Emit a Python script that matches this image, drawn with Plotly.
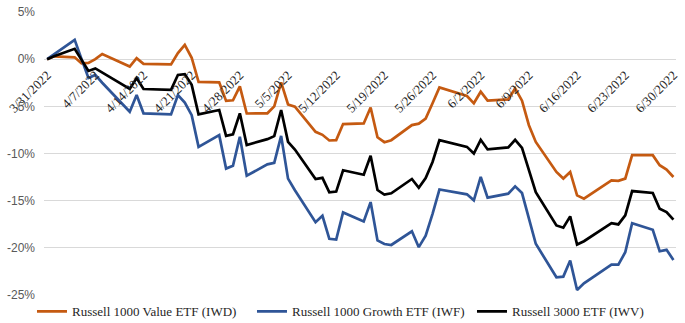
import plotly.graph_objects as go

dates = ["2022-03-31","2022-04-01","2022-04-04","2022-04-05","2022-04-06","2022-04-07","2022-04-08",
         "2022-04-11","2022-04-12","2022-04-13","2022-04-14",
         "2022-04-18","2022-04-19","2022-04-20","2022-04-21","2022-04-22",
         "2022-04-25","2022-04-26","2022-04-27","2022-04-28","2022-04-29",
         "2022-05-02","2022-05-03","2022-05-04","2022-05-05","2022-05-06",
         "2022-05-09","2022-05-10","2022-05-11","2022-05-12","2022-05-13",
         "2022-05-16","2022-05-17","2022-05-18","2022-05-19","2022-05-20",
         "2022-05-23","2022-05-24","2022-05-25","2022-05-26","2022-05-27",
         "2022-05-31","2022-06-01","2022-06-02","2022-06-03",
         "2022-06-06","2022-06-07","2022-06-08","2022-06-09","2022-06-10",
         "2022-06-13","2022-06-14","2022-06-15","2022-06-16","2022-06-17",
         "2022-06-21","2022-06-22","2022-06-23","2022-06-24",
         "2022-06-27","2022-06-28","2022-06-29","2022-06-30"]

iwd = [0, 0.3, 0.2, -0.45, -0.4, 0.0, 0.55,
       -0.45, -0.78, 0.1, -0.5,
       -0.55, 0.64, 1.52, 0.15, -2.4,
       -2.45, -4.42, -4.36, -2.88, -5.76,
       -5.74, -5.0, -2.47, -4.8, -5.04,
       -7.7, -8.02, -8.62, -8.58, -6.88,
       -6.81, -5.12, -8.28, -8.8, -8.59,
       -6.99, -6.84, -6.3, -4.68, -3.0,
       -3.9, -4.68, -3.45, -4.4,
       -4.26, -3.1, -4.4, -7.0, -8.77,
       -11.96, -12.66, -11.96, -14.44, -14.79,
       -12.84, -12.9, -12.66, -10.18,
       -10.18, -11.24, -11.7, -12.49]

iwf = [0, 0.5, 2.05, 0.0, -2.0, -1.67, -2.5,
       -4.8, -5.57, -3.8, -5.74,
       -5.85, -3.8, -4.6, -5.93, -9.3,
       -8.05, -11.6, -11.3, -8.23, -12.35,
       -11.15, -11.0, -8.13, -12.66, -13.9,
       -17.28, -16.6, -19.04, -19.13, -16.25,
       -17.2, -15.15, -19.22, -19.6, -19.7,
       -18.25, -19.93, -18.72, -16.4, -13.82,
       -14.33, -14.97, -12.49, -14.68,
       -14.26, -13.48, -14.19, -16.74, -19.57,
       -23.12, -23.05, -21.35, -24.47, -23.77,
       -21.78, -21.78, -20.47, -17.38,
       -18.09, -20.36, -20.21, -21.28]

iwv = [0, 0.3, 1.1, -0.1, -1.25, -0.98, -1.4,
       -2.7, -3.16, -2.0, -3.16,
       -3.25, -1.67, -1.58, -2.72, -5.85,
       -5.39, -8.13, -7.98, -5.74, -9.1,
       -8.48, -8.16, -5.39, -8.77, -9.58,
       -12.7, -12.58, -14.12, -14.04, -11.78,
       -12.25, -10.23, -13.87, -14.35, -14.22,
       -12.7, -13.64, -12.6, -10.9, -8.59,
       -9.3, -10.0, -8.55, -9.57,
       -9.36, -8.55, -9.4, -11.7, -14.1,
       -17.63, -17.87, -16.67, -19.65, -19.3,
       -17.38, -17.52, -16.56, -13.98,
       -14.19, -15.85, -16.21, -17.02]

series_names = ["Russell 1000 Value ETF (IWD)", "Russell 1000 Growth ETF (IWF)", "Russell 3000 ETF (IWV)"]
series_colors = ["#C55A11", "#2F5597", "#000000"]

x_tickvals = ["2022-03-31","2022-04-07","2022-04-14","2022-04-21","2022-04-28","2022-05-05","2022-05-12",
              "2022-05-19","2022-05-26","2022-06-02","2022-06-09","2022-06-16","2022-06-23","2022-06-30"]
x_ticktext = ["3/31/2022","4/7/2022","4/14/2022","4/21/2022","4/28/2022","5/5/2022","5/12/2022",
              "5/19/2022","5/26/2022","6/2/2022","6/9/2022","6/16/2022","6/23/2022","6/30/2022"]
y_tickvals = [5, 0, -5, -10, -15, -20, -25]
y_ticktext = ["5%", "0%", "-5%", "-10%", "-15%", "-20%", "-25%"]

fig = go.Figure()
for name, vals, col in zip(series_names, [iwd, iwf, iwv], series_colors):
    fig.add_trace(go.Scatter(x=dates, y=vals, mode="lines", name=name,
                             line=dict(color=col, width=2.7)))

fig.update_layout(
    width=685, height=323,
    margin=dict(l=44, r=9, t=12, b=28, autoexpand=False),
    paper_bgcolor="white", plot_bgcolor="white",
    showlegend=True,
    legend=dict(orientation="h", x=-0.019, xanchor="left", y=-0.058, yanchor="middle",
                bgcolor="rgba(0,0,0,0)",
                font=dict(family="Liberation Serif", size=13, color="#262626"),
                entrywidth=175, entrywidthmode="pixels",
                itemwidth=30, traceorder="normal"),
    xaxis=dict(type="date", range=["2022-03-30 13:00", "2022-06-30 09:00"],
               anchor="free", position=25/30,
               tickmode="array", tickvals=x_tickvals, ticktext=x_ticktext,
               tickangle=-45, showgrid=False, zeroline=False, showline=False, ticks="",
               ticklabelstandoff=5,
               tickfont=dict(family="Liberation Serif", size=13, color="#262626")),
    yaxis=dict(range=[-25, 5], tickmode="array", tickvals=y_tickvals, ticktext=y_ticktext,
               showgrid=True, gridcolor="#D9D9D9", gridwidth=1, zeroline=False, showline=False,
               ticks="", ticklabelstandoff=8,
               tickfont=dict(family="Liberation Sans", size=12, color="#595959")),
)

fig.write_html("out.html")
